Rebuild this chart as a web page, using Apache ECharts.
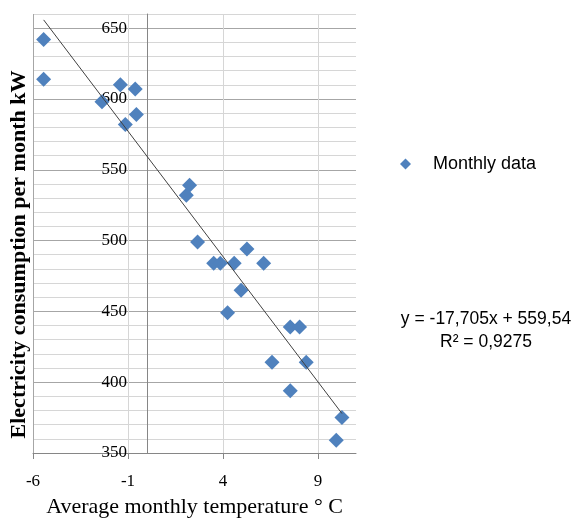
<!DOCTYPE html>
<html>
<head>
<meta charset="utf-8">
<script src="https://cdn.jsdelivr.net/npm/echarts@6/dist/echarts.min.js"></script>
<style>
	html, body { margin: 0; padding: 0; background: #fff; }
	#chart { width: 576px; height: 519px; }
</style>
</head>
<body>
<div id="chart"></div>
<script>
// Chart data:
var temps = [-5.44, -5.44, -1.40, -0.62, -2.37, -0.56, -1.14, 2.24, 2.07, 2.66, 3.51, 3.86,
			 4.59, 5.26, 6.14, 4.95, 4.24, 7.54, 8.03, 6.58, 8.38, 7.54, 10.26, 9.96];
var consumption = [642, 614, 610, 607, 598, 589, 582, 539, 532, 499, 484, 484,
				   484, 494, 484, 465, 449, 439, 439, 414, 414, 394, 375, 359];
var trendSlope = -17.705;				// Linear trendline from the spreadsheet
var trendIntercept = 559.54;
var xTickLabels = [-6, -1, 4, 9];
var yTickLabels = [350, 400, 450, 500, 550, 600, 650];
var seriesName = "Monthly data";
var equationLines = ["y = -17,705x + 559,54", "R² = 0,9275"];

// Colours:
var markerColor = "#4F81BD";
var majorGrid = "#a6a6a6";
var minorGrid = "#d6d6d6";
var axisColor = "#868686";

// Builds scatter points:
var points = temps.map(function (t, i) {
	return [t, consumption[i]];
});

// Trendline drawn from the smallest to the largest temperature:
var tMin = Math.min.apply(null, temps);
var tMax = Math.max.apply(null, temps);
var trend = [
	[tMin, trendSlope * tMin + trendIntercept],
	[tMax, trendSlope * tMax + trendIntercept]
];

var chart = echarts.init(document.getElementById("chart"));

chart.setOption({
	animation: false,
	grid: {
		left: 33,
		right: 220,
		top: 14,
		bottom: 66,
		outerBoundsMode: "none"
	},
	legend: {
		data: [seriesName],
		left: 395,
		top: 150,
		itemWidth: 11,
		itemHeight: 11,
		textStyle: {
			fontFamily: "Liberation Sans",
			fontSize: 18,
			color: "#000",
			padding: [0, 0, 0, 17]
		}
	},
	xAxis: {
		type: "value",
		min: -6,
		max: 11,
		interval: 1,
		name: "Average monthly temperature ° C",
		nameLocation: "middle",
		nameGap: 43,
		nameTextStyle: {
			fontFamily: "Liberation Serif",
			fontSize: 22,
			color: "#000"
		},
		axisLine: { onZero: false, lineStyle: { color: axisColor, width: 1 } },
		axisTick: { show: true, customValues: xTickLabels, length: 6, lineStyle: { color: axisColor } },
		axisLabel: {
			customValues: xTickLabels,
			margin: 20,
			fontFamily: "Liberation Serif",
			fontSize: 17,
			color: "#000"
		},
		splitLine: {
			show: true,
			lineStyle: { color: [majorGrid, minorGrid, minorGrid, minorGrid, minorGrid], width: 1 }
		}
	},
	yAxis: {
		type: "value",
		min: 350,
		max: 660,
		interval: 10,
		// Axis sits at x = 0, i.e. 6 units right of the grid's left edge:
		offset: -114,
		name: "Electricity consumption per month kW",
		nameLocation: "middle",
		nameGap: 117,
		nameTextStyle: {
			fontFamily: "Liberation Serif",
			fontWeight: "bold",
			fontSize: 22,
			color: "#000",
			padding: [0, 42, 0, 0]
		},
		axisLine: { show: true, onZero: false, lineStyle: { color: axisColor, width: 1 } },
		axisTick: { show: false },
		axisLabel: {
			customValues: yTickLabels,
			margin: 20,
			fontFamily: "Liberation Serif",
			fontSize: 17,
			color: "#000"
		},
		splitLine: {
			show: true,
			lineStyle: { color: [majorGrid, minorGrid, minorGrid, minorGrid, minorGrid], width: 1 }
		}
	},
	series: [
		{
			name: seriesName,
			type: "scatter",
			symbol: "diamond",
			symbolSize: 15,
			itemStyle: { color: markerColor, opacity: 1 },
			data: points,
			z: 2
		},
		{
			name: "Trend",
			type: "line",
			data: trend,
			showSymbol: false,
			silent: true,
			lineStyle: { color: "#404040", width: 1 },
			z: 3
		}
	],
	graphic: equationLines.map(function (line, i) {
		return {
			type: "text",
			x: 486,
			y: 319 + i * 23,
			style: {
				text: line,
				fontFamily: "Liberation Sans",
				fontSize: 17.5,
				fill: "#000",
				align: "center",
				verticalAlign: "middle"
			}
		};
	})
});
</script>
</body>
</html>
